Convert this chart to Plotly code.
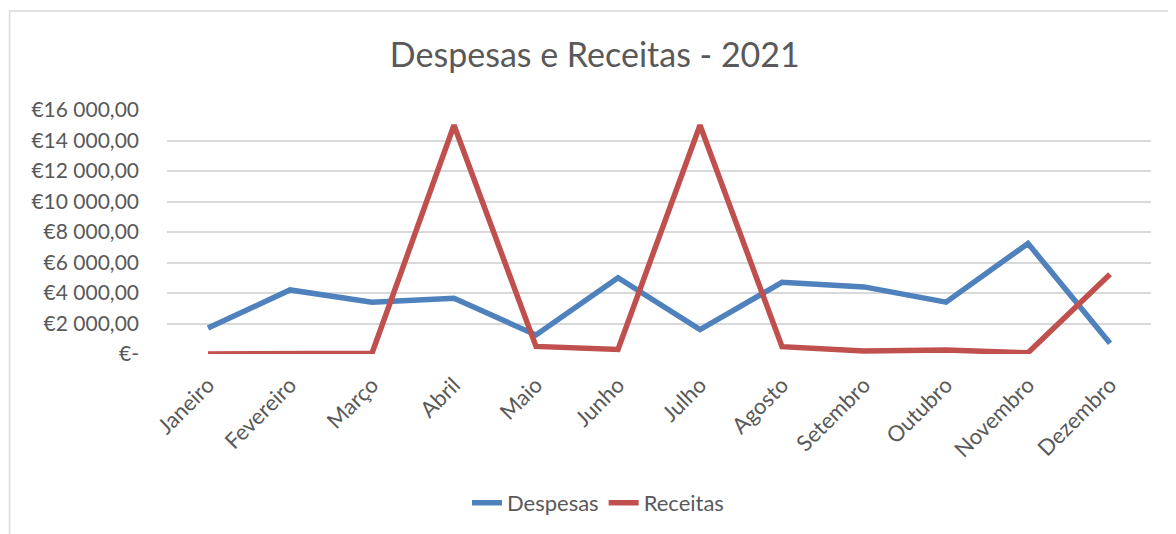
import plotly.graph_objects as go

months = ["Janeiro", "Fevereiro", "Março", "Abril", "Maio", "Junho", "Julho",
          "Agosto", "Setembro", "Outubro", "Novembro", "Dezembro"]
despesas = [1700, 4200, 3400, 3650, 1250, 5000, 1600, 4700, 4400, 3400, 7250, 700]
receitas = [0, 0, 50, 15000, 500, 300, 15000, 480, 200, 260, 80, 5230]
tick_vals = [0, 2000, 4000, 6000, 8000, 10000, 12000, 14000, 16000]
tick_text = ["€-", "€2 000,00", "€4 000,00", "€6 000,00", "€8 000,00",
             "€10 000,00", "€12 000,00", "€14 000,00", "€16 000,00"]

FONT = "Lato, Carlito, Calibri, sans-serif"
GREY = "#595959"

fig = go.Figure()
fig.add_trace(go.Scatter(x=months, y=despesas, mode="lines", name="Despesas",
                         line=dict(color="#4F81BD", width=5.5)))
fig.add_trace(go.Scatter(x=months, y=receitas, mode="lines", name="Receitas",
                         line=dict(color="#C0504D", width=5.5)))

fig.update_layout(
    width=1176, height=534,
    margin=dict(l=159, r=33, t=102, b=188),
    paper_bgcolor="white", plot_bgcolor="white",
    font=dict(family=FONT, color=GREY, size=20),
    title=dict(text="Despesas e Receitas - 2021", x=0.499, xanchor="center",
               y=0.912, yanchor="middle",
               font=dict(family=FONT, size=34, color=GREY)),
    showlegend=True,
    legend=dict(orientation="h", x=0.438, xanchor="center", y=-0.61, yanchor="middle",
                font=dict(family=FONT, size=22, color=GREY),
                tracegroupgap=0),
    xaxis=dict(range=[-0.5, 11.5], showgrid=False, zeroline=False,
               tickangle=-45, ticks="", showline=False, ticklabelstandoff=13,
               tickfont=dict(family=FONT, size=22, color=GREY)),
    yaxis=dict(range=[0, 16000], tickvals=tick_vals, ticktext=tick_text,
               showgrid=True, gridcolor="#D9D9D9", gridwidth=2,
               zeroline=False, showline=False, ticks="", ticklabelstandoff=27,
               tickfont=dict(family=FONT, size=21, color=GREY)),
    shapes=[dict(type="rect", xref="paper", yref="paper",
                 x0=-0.16, x1=1.1, y0=-0.9, y1=1.406,
                 line=dict(color="#D9D9D9", width=1.5), fillcolor="rgba(0,0,0,0)",
                 layer="below")],
)

fig.write_html("out.html")
